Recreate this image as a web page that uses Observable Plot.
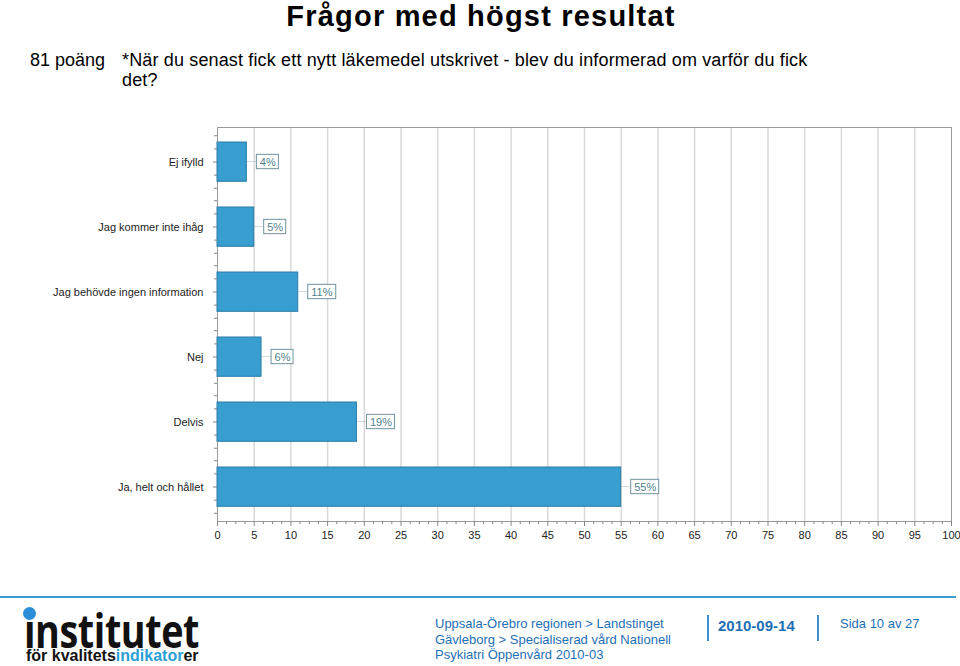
<!DOCTYPE html>
<html>
<head>
<meta charset="utf-8">
<script src="https://cdn.jsdelivr.net/npm/d3@7"></script>
<script src="https://cdn.jsdelivr.net/npm/@observablehq/plot@0.6"></script>
<style>
  html, body { margin: 0; padding: 0; background: #fff; }
  body { width: 960px; height: 666px; position: relative; overflow: hidden; font-family: "Liberation Sans", Arial, sans-serif; }
  .abs { position: absolute; white-space: nowrap; }
  #title { left: 0; width: 962px; text-align: center; top: 0px; font-size: 29px; font-weight: bold; line-height: 33px; color: #000; letter-spacing: 1.2px; }
  #score { left: 30px; top: 50px; font-size: 18px; line-height: 20px; color: #000; }
  #question { left: 122px; top: 50px; font-size: 18px; line-height: 20px; color: #000; letter-spacing: 0.15px; }
  #chart { position: absolute; left: 0; top: 120px; }
  #rule { position: absolute; left: 0; top: 596px; width: 956px; height: 2px; background: #3a9bd0; }
  #logo1 { left: 24px; top: 610px; font-size: 46px; font-weight: bold; line-height: 40px; color: #111; letter-spacing: -0.5px; font-family: "Open Sans", "Liberation Sans", sans-serif; transform: scaleX(0.82); transform-origin: left top; }
  #dot { position: absolute; left: 23px; top: 607px; width: 13px; height: 13px; border-radius: 7px; background: #2a8fd8; }
  #logo2 { left: 26px; top: 648px; font-size: 16px; font-weight: bold; line-height: 16px; color: #111; letter-spacing: 0px; }
  #logo2 span { color: #2a9fd6; }
  #foot { left: 435px; top: 616px; font-size: 13px; line-height: 15.5px; color: #1f6fb5; }
  #date { left: 718px; top: 617px; font-size: 15px; font-weight: bold; line-height: 18px; color: #1f6fb5; }
  .bar { position: absolute; top: 615px; width: 2px; height: 26px; background: #3a8fd0; }
  #page { left: 840px; top: 616px; font-size: 13px; line-height: 16px; color: #1f6fb5; }
</style>
</head>
<body>
<div id="title" class="abs">Frågor med högst resultat</div>
<div id="score" class="abs">81 poäng</div>
<div id="question" class="abs">*När du senast fick ett nytt läkemedel utskrivet - blev du informerad om varför du fick<br>det?</div>
<div id="chart"></div>
<div id="rule"></div>
<div id="logo1" class="abs">institutet</div>
<div id="dot"></div>
<div id="logo2" class="abs">för kvalitets<span>indikator</span>er</div>
<div id="foot" class="abs">Uppsala-Örebro regionen &gt; Landstinget<br>Gävleborg &gt; Specialiserad vård Nationell<br>Psykiatri Öppenvård 2010-03</div>
<div class="bar" style="left:707px"></div>
<div id="date" class="abs">2010-09-14</div>
<div class="bar" style="left:817px"></div>
<div id="page" class="abs">Sida 10 av 27</div>
<script>
const categories = ["Ej ifylld", "Jag kommer inte ihåg", "Jag behövde ingen information", "Nej", "Delvis", "Ja, helt och hållet"];
const values = [4, 5, 11, 6, 19, 55];
const majorTicks = [0, 5, 10, 15, 20, 25, 30, 35, 40, 45, 50, 55, 60, 65, 70, 75, 80, 85, 90, 95, 100];
const gridTicks = [5, 10, 15, 20, 25, 30, 35, 40, 45, 50, 55, 60, 65, 70, 75, 80, 85, 90, 95];

const data = categories.map((c, i) => ({category: c, value: values[i]}));
const minorX = d3.range(0, 100.001, 1.25).filter(v => !majorTicks.includes(v));

const W = 960, H = 430, mT = 7, mB = 29, mL = 217, mR = 9;
const step = (H - mT - mB) / categories.length;
const boxH = 15;
const boxInset = (step - boxH) / 2;
const lineInset = (step - 1) / 2;
const boxColor = "#6f939e";
const textColor = "#4f7f8d";

const small = data.filter(d => d.value < 10);
const big = data.filter(d => d.value >= 10);

const minorY = [-2, -1, 1, 2].map(k =>
  Plot.ruleY(categories, {y: d => d, x1: d => 0, x2: d => 0, insetLeft: -3, dy: k * step / 5, stroke: "#888"})
);

const chart = Plot.plot({
  width: W, height: H,
  marginTop: mT, marginBottom: mB, marginLeft: mL, marginRight: mR,
  style: {fontFamily: "'Liberation Sans', Arial, sans-serif", fontSize: "11px", color: "#222", background: "transparent"},
  x: {domain: [0, 100], label: null},
  y: {domain: categories, padding: 0, label: null},
  marks: [
    Plot.ruleX(gridTicks, {stroke: "#d9d9d9", strokeWidth: 1.5}),
    Plot.frame({stroke: "#9a9a9a"}),
    Plot.barX(data, {x: "value", y: "category", fill: "#389dcf", stroke: "#2c7eaa", strokeWidth: 1, insetTop: 13, insetBottom: 12.7}),
    Plot.barX(data, {x1: "value", x2: "value", y: "category", insetLeft: 0, insetRight: -10, insetTop: lineInset, insetBottom: lineInset, fill: boxColor}),
    Plot.barX(small, {x1: "value", x2: "value", y: "category", insetLeft: 10, insetRight: -32, insetTop: boxInset, insetBottom: boxInset, fill: "white", stroke: boxColor}),
    Plot.barX(big, {x1: "value", x2: "value", y: "category", insetLeft: 10, insetRight: -38, insetTop: boxInset, insetBottom: boxInset, fill: "white", stroke: boxColor}),
    Plot.text(data, {x: "value", y: "category", text: d => d.value + "%", dx: 13, textAnchor: "start", fill: textColor, fontSize: 11}),
    Plot.axisX(minorX, {tickSize: 3, tickFormat: () => "", stroke: "#888"}),
    Plot.axisX(majorTicks, {tickSize: 5, tickPadding: 5, stroke: "#888", fill: "#222", tickFormat: d => String(d)}),
    ...minorY,
    Plot.axisY({tickSize: 4, tickPadding: 10, stroke: "#888", fill: "#222"})
  ]
});
document.getElementById("chart").appendChild(chart);
</script>
</body>
</html>
